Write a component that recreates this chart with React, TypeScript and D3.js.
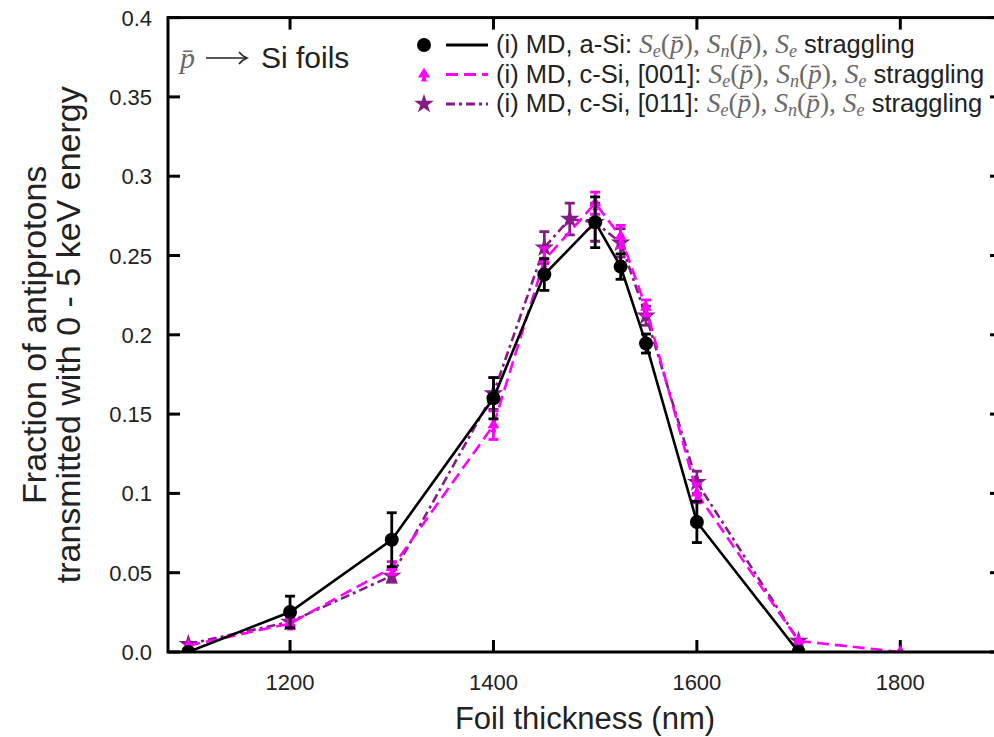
import React from "react";
import * as d3 from "d3";

const thickness = [1100, 1200, 1300, 1400, 1450, 1500, 1525, 1550, 1600, 1700];
const aSiValues = [0.0, 0.0252, 0.0708, 0.160, 0.238, 0.271, 0.243, 0.1945, 0.082, 0.0];
const aSiErrors = [0.0, 0.010, 0.017, 0.013, 0.010, 0.016, 0.008, 0.006, 0.013, 0.0];

const c001Thickness = [1100, 1200, 1300, 1400, 1450, 1500, 1525, 1550, 1600, 1700, 1800];
const c001Values = [0.004, 0.018, 0.053, 0.143, 0.247, 0.283, 0.262, 0.217, 0.100, 0.007, 0.0];
const c001Errors = [0.0, 0.003, 0.004, 0.009, 0.008, 0.007, 0.007, 0.005, 0.006, 0.0, 0.0];

const c011Thickness = [1100, 1200, 1300, 1400, 1450, 1475, 1500, 1525, 1550, 1600, 1700];
const c011Values = [0.005, 0.019, 0.048, 0.163, 0.255, 0.273, 0.271, 0.258, 0.212, 0.107, 0.007];
const c011Errors = [0.0, 0.003, 0.004, 0.010, 0.010, 0.010, 0.012, 0.009, 0.006, 0.007, 0.0];

const xTicks = [1200, 1400, 1600, 1800];
const yTicks = [0, 0.05, 0.1, 0.15, 0.2, 0.25, 0.3, 0.35, 0.4];
const yTickLabels = ["0.0", "0.05", "0.1", "0.15", "0.2", "0.25", "0.3", "0.35", "0.4"];

const W = 994;
const H = 737;
const M = { left: 168, right: 1002, top: 17.6, bottom: 652 };

const SANS = "'Liberation Sans', Arial, Helvetica, sans-serif";
const SERIF = "'Liberation Serif', 'DejaVu Serif', serif";
const BLACK = "#000000";
const MAGENTA = "#ff00ff";
const PURPLE = "#851b85";
const TEXT = "#222222";

const x = d3.scaleLinear().domain([1080, 1900]).range([M.left, M.right]);
const y = d3.scaleLinear().domain([0, 0.4]).range([M.bottom, M.top]);

type Pt = { t: number; v: number; e: number };
const zipPts = (t: number[], v: number[], e: number[]): Pt[] =>
  t.map((tt, i) => ({ t: tt, v: v[i], e: e[i] }));

const line = d3
  .line<Pt>()
  .x((d) => x(d.t))
  .y((d) => y(d.v));

const starPath = d3.symbol().type(d3.symbolStar).size(120)() as string;
const clubPath = "M0,-7 L6,3 L1.5,3 L3,7 L-3,7 L-1.5,3 L-6,3 Z";

function Marker({ kind, cx, cy, color }: { kind: string; cx: number; cy: number; color: string }) {
  if (kind === "circle") return <circle cx={cx} cy={cy} r={7} fill={color} />;
  if (kind === "star") return <path d={starPath} transform={`translate(${cx},${cy})`} fill={color} />;
  return <path d={clubPath} transform={`translate(${cx},${cy})`} fill={color} />;
}

function ErrorBars({ pts, color }: { pts: Pt[]; color: string }) {
  return (
    <g stroke={color} strokeWidth={2.8} fill="none">
      {pts
        .filter((d) => d.e > 0)
        .map((d, i) => {
          const cx = x(d.t);
          const y1 = y(d.v + d.e);
          const y2 = y(d.v - d.e);
          return (
            <g key={i}>
              <line x1={cx} x2={cx} y1={y1} y2={y2} />
              <line x1={cx - 5} x2={cx + 5} y1={y1} y2={y1} />
              <line x1={cx - 5} x2={cx + 5} y1={y2} y2={y2} />
            </g>
          );
        })}
    </g>
  );
}

function Series({ pts, color, dash, kind }: { pts: Pt[]; color: string; dash?: string; kind: string }) {
  return (
    <g>
      <path d={line(pts) as string} fill="none" stroke={color} strokeWidth={2.6} strokeDasharray={dash} />
      <ErrorBars pts={pts} color={color} />
      {pts.map((d, i) => (
        <Marker key={i} kind={kind} cx={x(d.t)} cy={y(d.v)} color={color} />
      ))}
    </g>
  );
}

function MathPart() {
  const g = "#6a6a6a";
  const fs = 27.5;
  const sub = 18;
  return (
    <>
      <tspan fontFamily={SERIF} fontStyle="italic" fill={g} fontSize={fs}>S</tspan>
      <tspan fontFamily={SERIF} fontStyle="italic" fill={g} fontSize={sub} dy={4}>e</tspan>
      <tspan fontFamily={SERIF} fill={g} fontSize={fs} dy={-4}>(</tspan>
      <tspan fontFamily={SERIF} fontStyle="italic" fill={g} fontSize={fs}>{"p\u0304"}</tspan>
      <tspan fontFamily={SERIF} fill={g} fontSize={fs}>{"), "}</tspan>
      <tspan fontFamily={SERIF} fontStyle="italic" fill={g} fontSize={fs}>S</tspan>
      <tspan fontFamily={SERIF} fontStyle="italic" fill={g} fontSize={sub} dy={4}>n</tspan>
      <tspan fontFamily={SERIF} fill={g} fontSize={fs} dy={-4}>(</tspan>
      <tspan fontFamily={SERIF} fontStyle="italic" fill={g} fontSize={fs}>{"p\u0304"}</tspan>
      <tspan fontFamily={SERIF} fill={g} fontSize={fs}>{"), "}</tspan>
      <tspan fontFamily={SERIF} fontStyle="italic" fill={g} fontSize={fs}>S</tspan>
      <tspan fontFamily={SERIF} fontStyle="italic" fill={g} fontSize={sub} dy={4}>e</tspan>
      <tspan dy={-4}>{" straggling"}</tspan>
    </>
  );
}

export default function App() {
  const aSi = zipPts(thickness, aSiValues, aSiErrors);
  const c001 = zipPts(c001Thickness, c001Values, c001Errors);
  const c011 = zipPts(c011Thickness, c011Values, c011Errors);

  const legend = [
    { label: "(i) MD, a-Si: ", color: BLACK, dash: undefined as string | undefined, kind: "circle" },
    { label: "(i) MD, c-Si, [001]: ", color: MAGENTA, dash: "12,6", kind: "club" },
    { label: "(i) MD, c-Si, [011]: ", color: PURPLE, dash: "9,4,3,4", kind: "star" },
  ];

  const tickLen = 12;

  return (
    <svg
      width={W}
      height={H}
      style={{ position: "absolute", left: 0, top: 0, background: "#fff" }}
      fontFamily={SANS}
    >
      <rect x={0} y={0} width={W} height={H} fill="#fff" />
      <defs>
        <clipPath id="plot">
          <rect x={M.left} y={M.top} width={M.right - M.left} height={M.bottom - M.top} />
        </clipPath>
      </defs>

      {/* ticks */}
      <g stroke="#000" strokeWidth={3}>
        {xTicks.map((t) => (
          <g key={t}>
            <line x1={x(t)} x2={x(t)} y1={M.bottom} y2={M.bottom - tickLen} />
            <line x1={x(t)} x2={x(t)} y1={M.top} y2={M.top + tickLen} />
          </g>
        ))}
        {yTicks.map((t) => (
          <g key={t}>
            <line x1={M.left} x2={M.left + tickLen} y1={y(t)} y2={y(t)} />
            <line x1={M.right} x2={M.right - tickLen} y1={y(t)} y2={y(t)} />
          </g>
        ))}
      </g>

      {/* tick labels */}
      <g fontSize={22} fill={TEXT}>
        {xTicks.map((t) => (
          <text key={t} x={x(t)} y={690} textAnchor="middle">
            {t}
          </text>
        ))}
        {yTicks.map((t, i) => (
          <text key={t} x={152} y={y(t) + 8} textAnchor="end">
            {yTickLabels[i]}
          </text>
        ))}
      </g>

      {/* axis labels */}
      <text x={(M.left + M.right) / 2} y={729} textAnchor="middle" fontSize={31} fill={TEXT}>
        Foil thickness (nm)
      </text>
      <g transform={`translate(46, ${(M.top + M.bottom) / 2}) rotate(-90)`} fontSize={34} fill={TEXT}>
        <text x={0} y={0} textAnchor="middle">Fraction of antiprotons</text>
        <text x={0} y={34} textAnchor="middle">transmitted with 0 - 5 keV energy</text>
      </g>

      {/* data */}
      <g clipPath="url(#plot)">
        <Series pts={c011} color={PURPLE} dash="9,4,3,4" kind="star" />
        <Series pts={c001} color={MAGENTA} dash="12,6" kind="club" />
        <Series pts={aSi} color={BLACK} kind="circle" />
      </g>

      {/* frame */}
      <rect
        x={M.left}
        y={M.top}
        width={M.right - M.left}
        height={M.bottom - M.top}
        fill="none"
        stroke="#000"
        strokeWidth={3}
      />

      {/* annotation */}
      <text x={180} y={68} fontSize={30} fontFamily={SERIF} fontStyle="italic" fill="#6a6a6a">
        {"p\u0304"}
      </text>
      <g stroke={TEXT} strokeWidth={1.6} fill="none">
        <line x1={206} x2={246} y1={58} y2={58} />
        <path d="M239,52 Q242,56 247,58 Q242,60 239,64" />
      </g>
      <text x={261} y={68} fontSize={30} fill={TEXT}>
        Si foils
      </text>

      {/* legend */}
      {legend.map((l, i) => {
        const ly = 45 + i * 29.5;
        return (
          <g key={i}>
            <Marker kind={l.kind} cx={424} cy={ly} color={l.color} />
            <line x1={446} x2={488} y1={ly} y2={ly} stroke={l.color} strokeWidth={2.8} strokeDasharray={l.dash} />
            <text x={496} y={ly + 8} fontSize={25.5} fill={TEXT}>
              {l.label}
              <MathPart />
            </text>
          </g>
        );
      })}
    </svg>
  );
}
